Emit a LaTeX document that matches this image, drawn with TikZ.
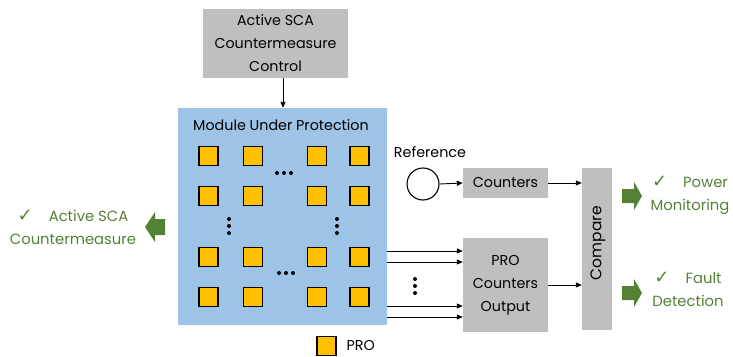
\documentclass[tikz,border=0pt]{standalone}
\usepackage{fontspec}
\setmainfont{Poppins}
\newfontfamily\symfont{DejaVu Sans}
\usetikzlibrary{arrows.meta}
\definecolor{modblue}{HTML}{9DC3E6}
\definecolor{boxgray}{HTML}{BFBFBF}
\definecolor{proyel}{HTML}{FFC000}
\definecolor{okgreen}{HTML}{548235}
\newcommand{\chk}{{\symfont\fontsize{18}{16}\selectfont ✓}}
\begin{document}
\begin{tikzpicture}[x=1pt,y=-1pt,
  font=\fontsize{14.3}{23}\selectfont,
  graybox/.style={fill=boxgray, draw=none, inner sep=0, align=center},
  pro/.style={draw=black, line width=1.2pt, fill=proyel, minimum size=19pt, inner sep=0},
  arr/.style={-{Triangle[length=6pt,width=5pt]}, line width=0.9pt},
  gfill/.style={fill=okgreen, draw=none},
  gtext/.style={text=okgreen, align=center, font=\fontsize{14.8}{23}\selectfont},
  dot/.style={circle, fill=black, inner sep=0, minimum size=4pt}]
\useasboundingbox (0,0) rectangle (733,356);

\node[graybox, minimum width=145pt, minimum height=69pt] (ctrl) at (275.5,43.5)
  {Active SCA\\Countermeasure\\Control};
\node[fill=modblue, minimum width=209pt, minimum height=217pt, inner sep=0] (mod) at (282.5,216.5) {};
\node (modlbl) at (281,125) {Module Under Protection};
\draw[arr] (ctrl.south -| 283,0) -- (mod.north -| 283,0);

% PRO squares
\foreach \c/\x in {1/208.5,2/253,3/317,4/359.5}{
  \foreach \r/\y in {1/156,2/196,3/257,4/297}{
    \node[pro] (p\r\c) at (\x,\y) {};
  }
}
% dots
\foreach \i in {-7,0,7}{
  \node[dot] at (284+\i,173) {};
  \node[dot] at (286+\i,273) {};
  \node[dot] at (229,226+\i) {};
  \node[dot] at (337,226+\i) {};
  \node[dot] at (415,286+\i) {};
}

% reference and counters
\node (reflbl) at (430,152) {Reference};
\node[circle, draw=black, line width=1.1pt, minimum size=32pt, inner sep=0] (ref) at (423,184) {};
\node[graybox, minimum width=85pt, minimum height=30pt] (cnt) at (505.5,183) {Counters};
\node[graybox, minimum width=85pt, minimum height=94pt] (proc) at (505.5,285) {PRO\\Counters\\Output};
\node[graybox, minimum width=30pt, minimum height=162pt] (cmp) at (597,249) {};
\node[rotate=90, font=\fontsize{15.5}{18}\selectfont] (cmplbl) at (598,243) {Compare};

\draw[arr] (ref.east) -- (cnt.west);
\draw[arr] (cnt.east) -- (cnt.east -| cmp.west);
\draw[arr] (proc.east) -- (proc.east -| cmp.west);
\foreach \y in {251,262,306,317}{
  \coordinate (s\y) at (387,\y);
  \draw[arr] (s\y) -- (s\y -| proc.west);
}

% green block arrows
\foreach \yc in {196,293}{
  \fill[gfill] (622,\yc-7) -- (634,\yc-7) -- (634,\yc-14) -- (642,\yc) -- (634,\yc+14)
     -- (634,\yc+7) -- (622,\yc+7) -- cycle;
}
\fill[gfill] (165,219) -- (155,219) -- (155,212) -- (145,227) -- (155,242) -- (155,235)
  -- (165,235) -- cycle;

\node[gtext] (t1) at (690,195.5) {\chk\hspace{16pt}Power\\Monitoring};
\node[gtext] (t2) at (688,289.5) {\chk\hspace{16pt}Fault\\Detection};
\node[gtext] (t3) at (73,227) {\chk\hspace{16pt}Active SCA\\Countermeasure};

% legend
\node[pro] (leg) at (326.5,346) {};
\node[anchor=west] (leglbl) at (343,346) {PRO};
\end{tikzpicture}
\end{document}
